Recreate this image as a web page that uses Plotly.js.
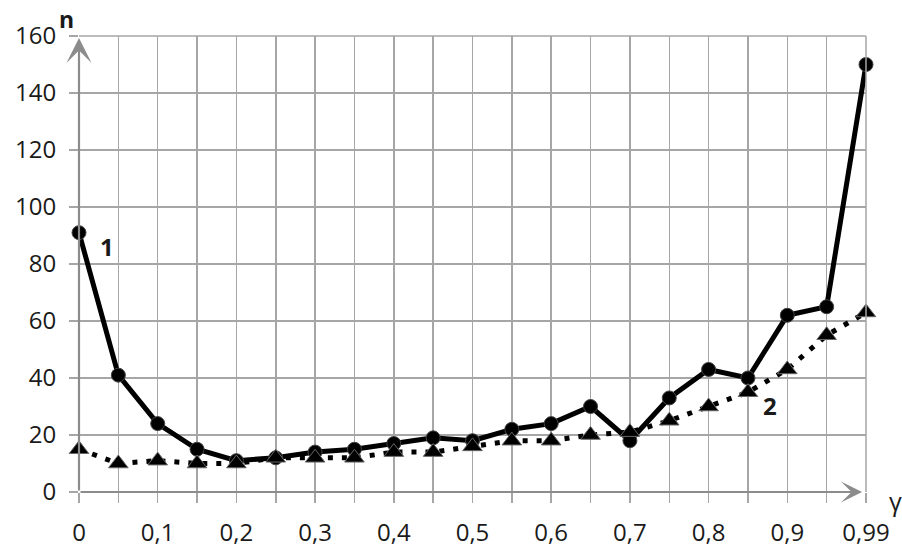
<!DOCTYPE html>
<html>
<head>
<meta charset="utf-8">
<script src="https://cdn.plot.ly/plotly-3.0.1.min.js"></script>
<style>
  html, body { margin: 0; padding: 0; background: #fff; }
  #chart { width: 902px; height: 547px; }
</style>
</head>
<body>
<div id="chart"></div>
<script>
// γ values along the horizontal axis (evenly spaced categories)
const gammaLabels = ['0', '0,05', '0,1', '0,15', '0,2', '0,25', '0,3', '0,35', '0,4', '0,45',
                     '0,5', '0,55', '0,6', '0,65', '0,7', '0,75', '0,8', '0,85', '0,9', '0,95', '0,99'];
// Only every other category carries a printed label
const tickLabels = ['0', '', '0,1', '', '0,2', '', '0,3', '', '0,4', '', '0,5', '', '0,6', '',
                    '0,7', '', '0,8', '', '0,9', '', '0,99'];
// Curve 1 (solid, circles)
const nCurve1 = [91, 41, 24, 15, 11, 12, 14, 15, 17, 19, 18, 22, 24, 30, 18, 33, 43, 40, 62, 65, 150];
// Curve 2 (dotted, triangles)
const nCurve2 = [15, 10, 11, 10, 10, 12, 12, 12, 14, 14, 16, 18, 18, 20, 21, 25, 30, 35, 43, 55, 63];
const yTicks = [0, 20, 40, 60, 80, 100, 120, 140, 160];

const xIdx = gammaLabels.map((_, i) => i);
const grid = '#a6a6a6';
const axisGray = '#8c8c8c';
const font = 'Open Sans, DejaVu Sans, sans-serif';
const tickFont = { family: font, size: 24, color: '#1a1a1a' };

const traces = [
  {
    x: xIdx, y: nCurve1, type: 'scatter', mode: 'lines+markers', cliponaxis: false,
    line: { color: '#000', width: 5 },
    marker: { symbol: 'circle', size: 14, color: '#000', line: { color: '#444', width: 1 } },
    hoverinfo: 'skip'
  },
  {
    x: xIdx, y: nCurve2, type: 'scatter', mode: 'lines+markers', cliponaxis: false,
    line: { color: '#000', width: 5, dash: '5px,9px' },
    marker: { symbol: 'triangle-up', size: 17, color: '#000', line: { color: '#666', width: 1 } },
    hoverinfo: 'skip'
  }
];

const layout = {
  width: 902, height: 547,
  margin: { l: 79, r: 36, t: 36, b: 55 },
  paper_bgcolor: '#fff', plot_bgcolor: '#fff',
  showlegend: false,
  font: { family: font, size: 24, color: '#1a1a1a' },
  xaxis: {
    range: [0, xIdx.length - 1],
    tickmode: 'array', tickvals: xIdx, ticktext: tickLabels,
    showgrid: true, gridcolor: grid, gridwidth: 1.5,
    ticks: 'outside', ticklen: 10, tickcolor: grid, tickwidth: 1.5,
    zeroline: false, showline: false,
    tickfont: tickFont,
    ticklabelstandoff: 9,
    fixedrange: true
  },
  yaxis: {
    range: [0, 160],
    tickmode: 'array', tickvals: yTicks,
    showgrid: true, gridcolor: grid, gridwidth: 1.5,
    ticks: 'outside', ticklen: 9, tickcolor: grid, tickwidth: 1.5,
    zeroline: false, showline: false,
    tickfont: tickFont,
    ticklabelstandoff: 8,
    fixedrange: true
  },
  shapes: [
    { type: 'line', xref: 'paper', yref: 'paper', x0: 1, x1: 1, y0: 0, y1: 1,
      line: { color: grid, width: 1.5 } },
    { type: 'line', xref: 'paper', yref: 'paper', x0: 0, x1: 1, y0: 1, y1: 1,
      line: { color: grid, width: 1.5 } }
  ],
  annotations: [
    // vertical axis arrow
    { x: 0, y: 159.3, xref: 'x', yref: 'y', ax: 0, ay: 0, axref: 'x', ayref: 'y',
      showarrow: true, arrowhead: 3, arrowsize: 1.9, arrowwidth: 2.2, arrowcolor: axisGray, text: '' },
    // horizontal axis arrow
    { x: 19.9, y: 0, xref: 'x', yref: 'y', ax: 0, ay: 0, axref: 'x', ayref: 'y',
      showarrow: true, arrowhead: 3, arrowsize: 1.6, arrowwidth: 2.2, arrowcolor: axisGray, text: '' },
    { x: 0, y: 1, xref: 'paper', yref: 'paper', xanchor: 'center', yanchor: 'middle',
      xshift: -13, yshift: 17, showarrow: false,
      text: '<b>n</b>', font: { family: font, size: 23, color: '#1a1a1a' } },
    { x: 1, y: 0, xref: 'paper', yref: 'paper', xanchor: 'center', yanchor: 'middle',
      xshift: 29, yshift: -9, showarrow: false,
      text: 'γ', font: { family: font, size: 25, color: '#1a1a1a' } },
    { x: 0.72, y: 86, xref: 'x', yref: 'y', showarrow: false,
      text: '<b>1</b>', font: { family: font, size: 24, color: '#1a1a1a' } },
    { x: 17.56, y: 30.5, xref: 'x', yref: 'y', showarrow: false,
      text: '<b>2</b>', font: { family: font, size: 24, color: '#1a1a1a' } }
  ]
};

Plotly.newPlot('chart', traces, layout, { displayModeBar: false, staticPlot: true });
</script>
</body>
</html>
